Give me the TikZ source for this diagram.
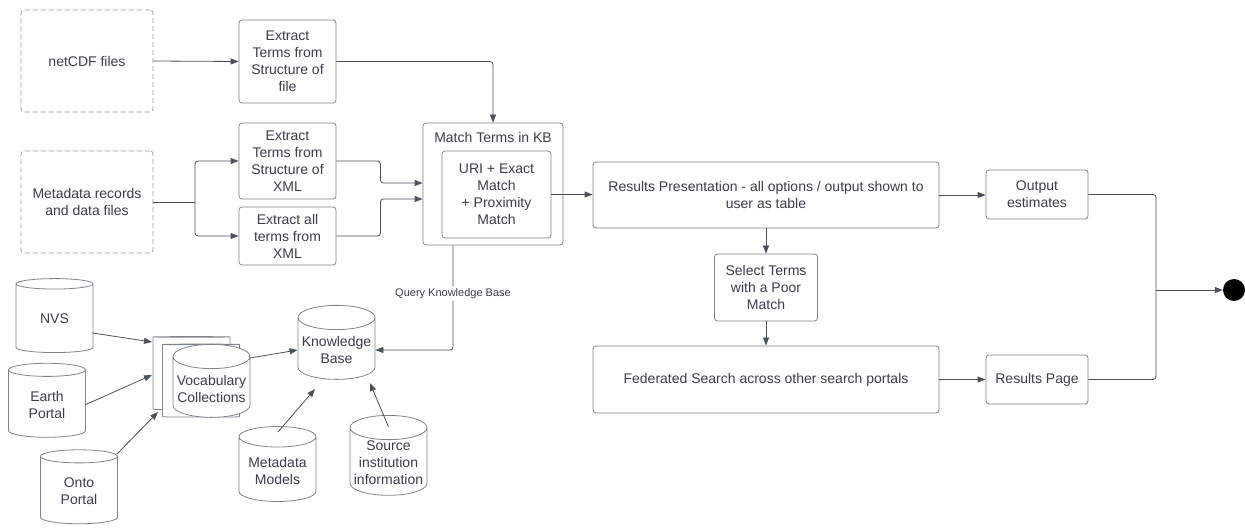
\documentclass[tikz,border=0pt]{standalone}
\usepackage{fontspec}
\setmainfont{Liberation Sans}
\usetikzlibrary{shapes.geometric,arrows.meta}

\definecolor{txt}{HTML}{3A3F47}
\definecolor{edge}{HTML}{7F838A}
\definecolor{wire}{HTML}{4C5058}
\definecolor{dashgray}{HTML}{9A9A9A}

\begin{document}
\begin{tikzpicture}[x=1pt,y=-1pt,
  every node/.style={text=txt, font=\fontsize{14}{17}\selectfont, align=center, inner sep=1pt},
  box/.style={draw=edge, line width=0.8pt, rounded corners=3pt, fill=white},
  dbox/.style={draw=dashgray, line width=0.8pt, rounded corners=3pt, dash pattern=on 5pt off 3pt},
  db/.style={cylinder, shape border rotate=90, aspect=0.34, draw=edge, line width=0.8pt, fill=white,
    minimum width=77pt, minimum height=74pt},
  flow/.style={draw=wire, line width=0.8pt, rounded corners=3pt, -{Triangle[length=8pt,width=6pt]}},
  plain/.style={draw=wire, line width=0.8pt, rounded corners=3pt}
]
\useasboundingbox (0,0) rectangle (1245,529);

% sources
\node[dbox, minimum width=132pt, minimum height=102pt] (net) at (87,61) {netCDF files};
\node[dbox, minimum width=132pt, minimum height=102pt] (meta) at (87,202) {Metadata records\\and data files};

% extraction steps
\node[box, minimum width=97pt, minimum height=83pt] (exf) at (287.5,61.5) {Extract\\Terms from\\Structure of\\file};
\node[box, minimum width=97pt, minimum height=76pt] (exx) at (287.5,161) {Extract\\Terms from\\Structure of\\XML};
\node[box, minimum width=97pt, minimum height=58pt] (exa) at (287.5,236) {Extract all\\terms from\\XML};

% matching
\node[box, minimum width=140pt, minimum height=122pt] (match) at (493,184) {};
\node (mtitle) at (493,137) {Match Terms in KB};
\node[box, minimum width=109pt, minimum height=87pt] (uri) at (496.5,194.5) {URI + Exact\\Match\\+ Proximity\\Match};

% results
\node[box, minimum width=346pt, minimum height=66pt] (res) at (766,195) {Results Presentation - all options / output shown to\\user as table};
\node[box, minimum width=103pt, minimum height=67pt] (sel) at (766,287.5) {Select Terms\\with a Poor\\Match};
\node[box, minimum width=346pt, minimum height=67pt] (fed) at (766,379.5) {Federated Search across other search portals};
\node[box, minimum width=102pt, minimum height=49pt] (out) at (1037,194.5) {Output\\estimates};
\node[box, minimum width=102pt, minimum height=49pt] (rp) at (1037,379.5) {Results Page};
\node[circle, fill=black, minimum size=22pt, inner sep=0pt] (end) at (1234,290) {};
\coordinate (join) at (1156,290);
\coordinate (fork) at (195,202);

% vocabulary sources and knowledge base
\node[db] (nvs) at (54.5,319) {NVS};
\node[db] (earth) at (47,404.5) {Earth\\Portal};
\node[db] (onto) at (79,491) {Onto\\Portal};
\node[db, minimum height=73pt] (v1) at (191.5,373.5) {};
\node[db, minimum height=73pt] (v2) at (201,381) {};
\node[db, minimum height=73pt] (v3) at (211.5,388.5) {Vocabulary\\Collections};
\node[db] (kb) at (336.5,350) {Knowledge\\Base};
\node[db, minimum height=75pt] (mm) at (277.5,470.5) {Metadata\\Models};
\node[db, minimum height=70pt] (src) at (388.5,463) {Source\\institution\\information};

% flow connectors
\draw[flow] (net.east) -- (exf.west);
\draw[plain] (meta.east) -- (fork);
\draw[flow] (fork) |- (exx.west);
\draw[flow] (fork) |- (exa.west);
\draw[flow] (exx.east) -- ++(44,0) |- ([yshift=1pt]match.west);
\draw[flow] (exa.east) -- ++(44,0) |- ([yshift=-15pt]match.west);
\draw[flow] (exf.east) -| (match.north);
\draw[flow] (uri.east) -- (uri.east -| res.west);
\draw[flow] ([xshift=-40pt]match.south) |- (kb.east)
  node[pos=0.23, fill=white, inner sep=2pt, font=\fontsize{11}{13}\selectfont] (qlabel) {Query Knowledge Base};
\draw[flow] (res.south) -- (sel.north);
\draw[flow] (sel.south) -- (fed.north);
\draw[flow] (res.east) -- (res.east -| out.west);
\draw[flow] (fed.east) -- (fed.east -| rp.west);
\draw[plain] (out.east) -| (join);
\draw[plain] (rp.east) -| (join);
\draw[flow] (join) -- (end.west);

% knowledge base feeds
\draw[flow] ([shift={(38,14)}]nvs.center) -- ([shift={(-39.5,-31.5)}]v1.center);
\draw[flow] (earth.east) -- ([shift={(-39.5,1.5)}]v1.center);
\draw[flow] ([shift={(38,-37)}]onto.center) -- ([shift={(-33.5,38.5)}]v1.center);
\draw[flow] ([shift={(38.5,-30.5)}]v3.center) -- (kb.west);
\draw[flow] ([shift={(0.5,-38.5)}]mm.center) -- ([shift={(-21.5,39)}]kb.center);
\draw[flow] ([shift={(0,-36)}]src.center) -- ([shift={(33.5,33)}]kb.center);
\end{tikzpicture}
\end{document}
